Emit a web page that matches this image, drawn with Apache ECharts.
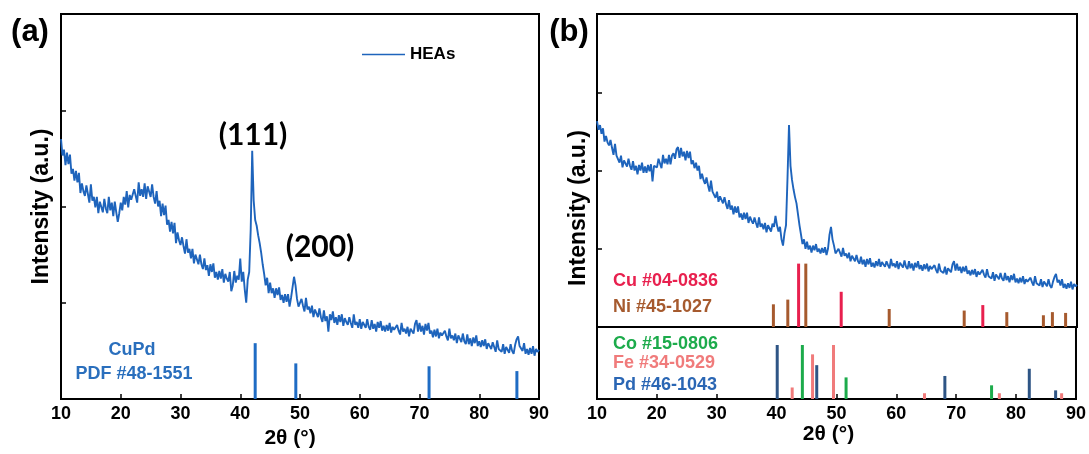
<!DOCTYPE html>
<html>
<head>
<meta charset="utf-8">
<script src="https://cdn.jsdelivr.net/npm/echarts@6/dist/echarts.min.js"></script>
<style>
  html, body { margin: 0; padding: 0; background: #fff; }
  #chart { width: 1089px; height: 454px; }
</style>
</head>
<body>
<div id="chart"></div>
<script>
// scan grid of the measured patterns (2theta, degrees)
const scanStart = 10;
const scanStep = 0.25;

// panel (a) HEAs pattern, four points per degree, 10..90
const heaA = [
  270, 253, 259, 243,  256, 244, 254, 234,  239, 227, 237, 225,  235, 214, 224, 216,
  211, 222, 213, 204,  223, 206, 210, 199,  210, 193, 205, 206,  194, 208, 198, 193,
  210, 196, 204, 190,  205, 194, 184, 193,  204, 196, 210, 202,  216, 199, 212, 207,
  205, 218, 211, 204,  225, 211, 218, 210,  224, 208, 221, 222,  210, 223, 210, 203,
  216, 200, 206, 190,  203, 191, 201, 181,  186, 174, 184, 172,  183, 162, 173, 165,
  160, 168, 159, 151,  166, 152, 156, 146,  156, 141, 150, 150,  140, 150, 140, 135,
  146, 134, 139, 128,  140, 132, 141, 126,  132, 124, 133, 125,  135, 121, 130, 125,
  122, 132, 112, 118,  133, 121, 128, 124,  146, 122, 132, 114,  100, 124, 132, 176,
  258, 206, 186, 180,  170, 162, 152, 140,  130, 118, 126, 110,  121, 110, 115, 105,
  115, 108, 116, 103,  108, 100, 109, 101,  109, 96, 105, 105,   127, 118, 104, 96,
  96, 104, 97, 91,     105, 93, 96, 89,     97, 85, 93, 94,      85, 94, 85, 80,
  92, 81, 86, 70,      88, 82, 91, 79,      85, 77, 87, 80,      88, 76, 84, 80,
  77, 85, 79, 74,      88, 77, 80, 74,      83, 73, 80, 81,      74, 83, 75, 72,
  82, 73, 78, 70,      80, 74, 81, 71,      76, 70, 77, 71,      79, 69, 75, 72,
  70, 77, 71, 67,      79, 70, 73, 68,      75, 65, 73, 75,      68, 78, 82, 70,
  79, 70, 76, 67,      78, 71, 79, 68,      71, 64, 72, 65,      73, 63, 69, 66,
  64, 71, 65, 61,      73, 63, 66, 61,      68, 58, 66, 66,      59, 68, 60, 57,
  67, 57, 63, 55,      64, 58, 66, 55,      60, 54, 61, 55,      62, 52, 58, 55,
  52, 59, 54, 49,      61, 52, 54, 49,      57, 47, 54, 55,      48, 57, 50, 47,
  56, 62, 65, 55,      57, 50, 58, 47,      52, 46, 53, 47,      55, 45, 52, 49,
  51
];

// panel (b) HEAs pattern, four points per degree, 10..90
const heaB = [
  263, 252, 258, 247,  254, 237, 244, 236,  232, 239, 229, 220,  234, 219, 221, 210,
  219, 204, 213, 214,  205, 215, 206, 201,  212, 200, 206, 195,  207, 200, 210, 197,
  205, 197, 207, 199,  208, 186, 206, 204,  204, 215, 209, 203,  220, 209, 215, 208,
  220, 208, 219, 222,  215, 227, 230, 216,  229, 218, 224, 213,  225, 216, 224, 208,
  213, 203, 210, 200,  206, 189, 196, 188,  183, 191, 181, 173,  187, 173, 175, 165,
  173, 160, 167, 167,  158, 166, 157, 151,  162, 150, 155, 144,  154, 146, 154, 140,
  145, 137, 146, 138,  146, 133, 141, 136,  132, 140, 133, 127,  140, 128, 132, 125,
  133, 121, 130, 131,  122, 132, 128, 142,  130, 122, 128, 112,  104, 120, 130, 190,
  258, 206, 188, 176,  166, 158, 144, 130,  118, 106, 112, 100,  109, 99, 104, 95,
  104, 98, 106, 96,    100, 94, 101, 95,    102, 92, 100, 118,   128, 112, 104, 94,
  94, 100, 95, 90,     101, 91, 94, 88,     95, 84, 91, 91,      84, 92, 84, 81,
  90, 80, 86, 77,      87, 80, 88, 77,      82, 76, 84, 78,      87, 77, 83, 80,
  77, 84, 79, 75,      87, 78, 81, 76,      84, 74, 82, 83,      76, 85, 77, 74,
  84, 75, 81, 72,      82, 76, 84, 74,      79, 72, 80, 74,      81, 71, 78, 74,
  72, 79, 73, 69,      81, 72, 74, 69,      77, 67, 75, 76,      70, 80, 84, 72,
  81, 72, 77, 69,      77, 71, 78, 68,      72, 66, 73, 67,      74, 64, 71, 67,
  66, 73, 67, 63,      74, 65, 67, 62,      70, 59, 67, 68,      61, 69, 62, 59,
  69, 60, 65, 57,      66, 60, 68, 57,      62, 56, 63, 57,      65, 55, 61, 58,
  56, 63, 57, 53,      65, 56, 58, 53,      61, 51, 58, 59,      52, 61, 53, 50,
  58, 64, 68, 57,      60, 53, 61, 50,      55, 49, 56, 50,      58, 48, 55, 52,
  54
];

// reference patterns: [2theta, relative height]
const cuPdRef = [[42.5, 58], [49.3, 37], [71.6, 34], [86.3, 29]];
const cuRef = [[43.6, 81], [50.7, 45], [74.3, 28]];
const niRef = [[39.4, 29], [41.8, 35], [44.8, 81], [58.7, 23], [71.2, 21], [78.3, 19], [84.4, 15], [85.9, 19], [88.1, 18]];
const coRef = [[44.3, 75], [51.6, 30], [75.9, 19]];
const feRef = [[42.6, 16], [46.0, 62], [49.5, 75], [64.7, 8], [77.2, 8], [87.6, 8]];
const pdRef = [[40.1, 75], [46.7, 47], [68.1, 32], [82.2, 42], [86.6, 12]];

const xTicks = [10, 20, 30, 40, 50, 60, 70, 80, 90];

const FONT = "'Liberation Sans', Arial, sans-serif";
const curveColor = '#1e64bc';

function toPairs(values) {
    return values.map((v, i) => [scanStart + i * scanStep, v]);
}

function frameGrid(left, top, width, height) {
    return {
        left: left, top: top, width: width, height: height,
        show: true, borderColor: '#000', borderWidth: 2,
        backgroundColor: 'transparent', containLabel: false
    };
}

function xAxisFor(gridIndex, withLabels, ticks) {
    return {
        type: 'value', gridIndex: gridIndex,
        min: xTicks[0], max: xTicks[xTicks.length - 1], interval: 10,
        axisLine: { show: false },
        splitLine: { show: false },
        axisTick: { show: ticks, inside: true, length: 5, lineStyle: { color: '#000', width: 1.5 } },
        axisLabel: {
            show: withLabels, margin: 6, color: '#000',
            fontFamily: FONT, fontWeight: 'bold', fontSize: 18
        }
    };
}

function yAxisFor(gridIndex, max, ticks) {
    return {
        type: 'value', gridIndex: gridIndex, min: 0, max: max, interval: max / 4,
        axisLine: { show: false },
        splitLine: { show: false },
        axisLabel: { show: false },
        axisTick: { show: ticks, inside: true, length: 5, lineStyle: { color: '#000', width: 1.5 } }
    };
}

function refBars(name, data, color, xi, yi) {
    return {
        type: 'bar', name: name, data: data,
        xAxisIndex: xi, yAxisIndex: yi,
        barWidth: 3, barGap: '-100%',
        itemStyle: { color: color },
        silent: true
    };
}

function pattern(values, xi, yi) {
    return {
        type: 'line', name: 'HEAs', data: toPairs(values),
        xAxisIndex: xi, yAxisIndex: yi,
        showSymbol: false, lineStyle: { color: curveColor, width: 1.9 },
        itemStyle: { color: curveColor }, z: 3
    };
}

function label(text, x, y, size, color, family) {
    return {
        type: 'text', x: x, y: y,
        style: {
            text: text, fill: color,
            font: 'bold ' + size + 'px ' + (family || FONT),
            textAlign: 'center', textVerticalAlign: 'middle',
            align: 'center', verticalAlign: 'middle'
        }
    };
}

function leftLabel(text, x, y, color) {
    const g = label(text, x, y, 18, color);
    g.style.textAlign = 'left';
    g.style.align = 'left';
    return g;
}

const chart = echarts.init(document.getElementById('chart'));

const nameStyle = { fontFamily: FONT, fontWeight: 'bold', fontSize: 21, color: '#000' };

const xA = xAxisFor(0, true, true);
xA.name = '2θ (°)';
xA.nameLocation = 'middle';
xA.nameGap = 25;
xA.nameTextStyle = Object.assign({ padding: [0, 20, 0, 0] }, nameStyle);

const xB2 = xAxisFor(2, true, true);
xB2.name = '2θ (°)';
xB2.nameLocation = 'middle';
xB2.nameGap = 25;
xB2.nameTextStyle = Object.assign({ padding: [0, 16, 0, 0] }, nameStyle);

const yA = yAxisFor(0, 400, true);
yA.name = 'Intensity (a.u.)';
yA.nameLocation = 'middle';
yA.nameRotate = 90;
yA.nameGap = 8;
yA.nameTextStyle = { fontFamily: FONT, fontWeight: 'bold', fontSize: 23, color: '#000' };

const yLabelB = label('Intensity (a.u.)', 579, 208, 23, '#000');
yLabelB.rotation = Math.PI / 2;

const option = {
    animation: false,
    backgroundColor: '#fff',
    grid: [
        frameGrid(61, 14, 478, 385),
        frameGrid(597, 14, 480, 313),
        frameGrid(597, 327, 480, 72)
    ],
    xAxis: [xA, xAxisFor(1, false, false), xB2],
    yAxis: [yA, yAxisFor(1, 400, true), yAxisFor(2, 100, false)],
    legend: {
        data: [{ name: 'HEAs', icon: 'rect' }],
        left: 357, top: 41,
        itemWidth: 43, itemHeight: 1.5,
        textStyle: { fontFamily: FONT, fontWeight: 'bold', fontSize: 17, color: '#000' },
        selectedMode: false
    },
    series: [
        pattern(heaA, 0, 0),
        refBars('CuPd PDF #48-1551', cuPdRef, '#1f6cc4', 0, 0),
        pattern(heaB, 1, 1),
        refBars('Cu #04-0836', cuRef, '#e8204e', 1, 1),
        refBars('Ni #45-1027', niRef, '#a65a2e', 1, 1),
        refBars('Co #15-0806', coRef, '#1cab4b', 2, 2),
        refBars('Fe #34-0529', feRef, '#f07b7b', 2, 2),
        refBars('Pd #46-1043', pdRef, '#2e5585', 2, 2)
    ],
    graphic: [
        label('(a)', 30, 32, 31, '#000'),
        label('(b)', 569, 32, 31, '#000'),
        label('(111)', 253, 135, 30, '#000', 'Lato, ' + FONT),
        label('(200)', 320, 247, 30, '#000', 'Lato, ' + FONT),
        label('CuPd', 132, 350, 18, '#2a6fbd'),
        label('PDF #48-1551', 134, 374, 18, '#2a6fbd'),
        yLabelB,
        leftLabel('Cu #04-0836', 613, 281, '#e8204e'),
        leftLabel('Ni #45-1027', 613, 307, '#a65a2e'),
        leftLabel('Co #15-0806', 613, 344, '#1cab4b'),
        leftLabel('Fe #34-0529', 613, 363, '#f07b7b'),
        leftLabel('Pd #46-1043', 613, 385, '#2a66b4')
    ]
};

chart.setOption(option);
</script>
</body>
</html>
